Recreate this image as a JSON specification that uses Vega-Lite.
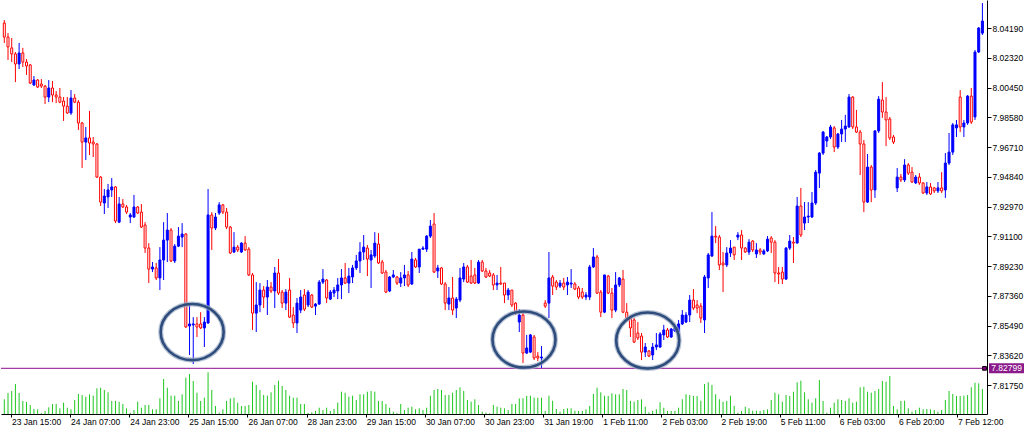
{
"$schema":"https://vega.github.io/schema/vega-lite/v6.json",
"width":986,"height":414,"padding":0,"background":"white",
"config":{"view":{"stroke":null},"font":"Liberation Sans"},
"datasets":{"bars":[
{"i":0,"o":8.045,"h":8.0469,"l":8.0325,"c":8.0362,"v":735},
{"i":1,"o":8.0362,"h":8.0387,"l":8.0218,"c":8.03,"v":1050},
{"i":2,"o":8.0294,"h":8.0356,"l":8.0205,"c":8.0256,"v":1150},
{"i":3,"o":8.0256,"h":8.0268,"l":8.0079,"c":8.0193,"v":1500},
{"i":4,"o":8.0193,"h":8.0325,"l":8.0161,"c":8.0262,"v":1050},
{"i":5,"o":8.0262,"h":8.0294,"l":8.0174,"c":8.0205,"v":650},
{"i":6,"o":8.0205,"h":8.0224,"l":8.0124,"c":8.018,"v":600},
{"i":7,"o":8.0187,"h":8.0193,"l":8.0067,"c":8.0073,"v":450},
{"i":8,"o":8.0061,"h":8.0117,"l":8.0054,"c":8.0092,"v":250},
{"i":9,"o":8.0092,"h":8.0098,"l":8.0042,"c":8.0048,"v":235},
{"i":10,"o":8.0067,"h":8.0098,"l":8.0042,"c":8.0054,"v":50},
{"i":11,"o":8.0054,"h":8.0061,"l":7.9941,"c":7.9985,"v":150},
{"i":12,"o":7.9985,"h":8.0092,"l":7.9953,"c":8.0042,"v":335},
{"i":13,"o":8.0042,"h":8.0086,"l":7.9953,"c":7.9998,"v":500},
{"i":14,"o":7.9998,"h":8.0023,"l":7.9947,"c":7.9985,"v":500},
{"i":15,"o":7.9985,"h":8.0042,"l":7.9947,"c":7.9953,"v":285},
{"i":16,"o":7.996,"h":7.9985,"l":7.9835,"c":7.9928,"v":565},
{"i":17,"o":7.9928,"h":7.9985,"l":7.9879,"c":7.9885,"v":315},
{"i":18,"o":7.9885,"h":8.0029,"l":7.9873,"c":7.9979,"v":235},
{"i":19,"o":7.9979,"h":8.0004,"l":7.9947,"c":7.9953,"v":700},
{"i":20,"o":7.9953,"h":7.9966,"l":7.9778,"c":7.9822,"v":1000},
{"i":21,"o":7.9822,"h":7.9828,"l":7.9539,"c":7.9702,"v":950},
{"i":22,"o":7.9702,"h":7.9797,"l":7.9589,"c":7.9728,"v":865},
{"i":23,"o":7.9728,"h":7.9898,"l":7.9621,"c":7.9696,"v":985},
{"i":24,"o":7.9702,"h":7.9734,"l":7.9608,"c":7.969,"v":915},
{"i":25,"o":7.969,"h":7.9696,"l":7.9476,"c":7.9482,"v":1285},
{"i":26,"o":7.9482,"h":7.9488,"l":7.93,"c":7.9325,"v":1315},
{"i":27,"o":7.9319,"h":7.9407,"l":7.925,"c":7.9363,"v":1200},
{"i":28,"o":7.9357,"h":7.9439,"l":7.9288,"c":7.9401,"v":1085},
{"i":29,"o":7.9401,"h":7.9476,"l":7.9357,"c":7.942,"v":650},
{"i":30,"o":7.942,"h":7.9426,"l":7.9193,"c":7.9206,"v":650},
{"i":31,"o":7.9199,"h":7.9357,"l":7.9193,"c":7.9313,"v":615},
{"i":32,"o":7.9313,"h":7.9344,"l":7.9288,"c":7.9294,"v":500},
{"i":33,"o":7.9294,"h":7.9307,"l":7.925,"c":7.9262,"v":285},
{"i":34,"o":7.9231,"h":7.9256,"l":7.9193,"c":7.9244,"v":65},
{"i":35,"o":7.9231,"h":7.937,"l":7.9225,"c":7.9294,"v":200},
{"i":36,"o":7.9294,"h":7.93,"l":7.925,"c":7.9256,"v":615},
{"i":37,"o":7.9262,"h":7.9313,"l":7.9162,"c":7.9168,"v":315},
{"i":38,"o":7.9181,"h":7.9199,"l":7.9005,"c":7.9036,"v":450},
{"i":39,"o":7.9036,"h":7.9067,"l":7.8816,"c":7.8904,"v":450},
{"i":40,"o":7.8904,"h":7.8948,"l":7.8885,"c":7.8917,"v":235},
{"i":41,"o":7.8911,"h":7.8942,"l":7.8835,"c":7.8848,"v":235},
{"i":42,"o":7.8848,"h":7.9042,"l":7.8772,"c":7.8961,"v":785},
{"i":43,"o":7.8961,"h":7.9199,"l":7.8835,"c":7.9086,"v":1750},
{"i":44,"o":7.9086,"h":7.9256,"l":7.8948,"c":7.9149,"v":1315},
{"i":45,"o":7.9149,"h":7.9162,"l":7.8948,"c":7.8955,"v":915},
{"i":46,"o":7.8955,"h":7.9061,"l":7.8942,"c":7.9048,"v":915},
{"i":47,"o":7.9048,"h":7.9168,"l":7.9042,"c":7.9111,"v":650},
{"i":48,"o":7.9105,"h":7.9193,"l":7.9042,"c":7.9124,"v":985},
{"i":49,"o":7.9124,"h":7.913,"l":7.8534,"c":7.854,"v":1815},
{"i":50,"o":7.8546,"h":7.869,"l":7.8364,"c":7.8559,"v":2000},
{"i":51,"o":7.8553,"h":7.8602,"l":7.8307,"c":7.8559,"v":1650},
{"i":52,"o":7.8559,"h":7.8602,"l":7.8477,"c":7.854,"v":1065},
{"i":53,"o":7.8559,"h":7.8633,"l":7.8527,"c":7.8534,"v":650},
{"i":54,"o":7.8534,"h":7.8602,"l":7.8414,"c":7.8571,"v":815},
{"i":55,"o":7.8565,"h":7.9407,"l":7.8559,"c":7.9244,"v":2085},
{"i":56,"o":7.9244,"h":7.9262,"l":7.9024,"c":7.9162,"v":1200},
{"i":57,"o":7.9162,"h":7.9256,"l":7.9149,"c":7.9231,"v":400},
{"i":58,"o":7.9256,"h":7.9325,"l":7.9244,"c":7.9307,"v":65},
{"i":59,"o":7.9307,"h":7.9313,"l":7.925,"c":7.9262,"v":235},
{"i":60,"o":7.9262,"h":7.9288,"l":7.9155,"c":7.9168,"v":650},
{"i":61,"o":7.9168,"h":7.9174,"l":7.8999,"c":7.9005,"v":785},
{"i":62,"o":7.9011,"h":7.9136,"l":7.9005,"c":7.9042,"v":815},
{"i":63,"o":7.9042,"h":7.9055,"l":7.9011,"c":7.9024,"v":565},
{"i":64,"o":7.9011,"h":7.9073,"l":7.9005,"c":7.9067,"v":400},
{"i":65,"o":7.9067,"h":7.9111,"l":7.9018,"c":7.9024,"v":400},
{"i":66,"o":7.9029,"h":7.9042,"l":7.886,"c":7.8867,"v":450},
{"i":67,"o":7.8867,"h":7.8879,"l":7.8521,"c":7.8627,"v":1615},
{"i":68,"o":7.8627,"h":7.8822,"l":7.8508,"c":7.8678,"v":1450},
{"i":69,"o":7.8678,"h":7.8816,"l":7.8633,"c":7.8772,"v":1200},
{"i":70,"o":7.8772,"h":7.8797,"l":7.8659,"c":7.8728,"v":950},
{"i":71,"o":7.8728,"h":7.8835,"l":7.8615,"c":7.8791,"v":915},
{"i":72,"o":7.8791,"h":7.8822,"l":7.8753,"c":7.8766,"v":1085},
{"i":73,"o":7.8766,"h":7.8917,"l":7.8659,"c":7.8879,"v":1450},
{"i":74,"o":7.8879,"h":7.8967,"l":7.8741,"c":7.8753,"v":1665},
{"i":75,"o":7.8759,"h":7.8772,"l":7.8659,"c":7.869,"v":1400},
{"i":76,"o":7.869,"h":7.8778,"l":7.8646,"c":7.8759,"v":1200},
{"i":77,"o":7.8772,"h":7.8848,"l":7.8596,"c":7.8602,"v":915},
{"i":78,"o":7.8615,"h":7.8665,"l":7.8534,"c":7.8565,"v":815},
{"i":79,"o":7.8565,"h":7.8722,"l":7.8502,"c":7.869,"v":815},
{"i":80,"o":7.8646,"h":7.8772,"l":7.8627,"c":7.8728,"v":500},
{"i":81,"o":7.8741,"h":7.8778,"l":7.864,"c":7.8652,"v":500},
{"i":82,"o":7.8678,"h":7.8772,"l":7.8665,"c":7.8759,"v":50},
{"i":83,"o":7.8741,"h":7.8747,"l":7.8659,"c":7.8665,"v":85},
{"i":84,"o":7.8671,"h":7.869,"l":7.8615,"c":7.8684,"v":150},
{"i":85,"o":7.8684,"h":7.8835,"l":7.8678,"c":7.8822,"v":315},
{"i":86,"o":7.8822,"h":7.8904,"l":7.881,"c":7.8841,"v":200},
{"i":87,"o":7.8835,"h":7.8841,"l":7.869,"c":7.8722,"v":315},
{"i":88,"o":7.8715,"h":7.8772,"l":7.8709,"c":7.8759,"v":150},
{"i":89,"o":7.8753,"h":7.8791,"l":7.8728,"c":7.8772,"v":250},
{"i":90,"o":7.8766,"h":7.8848,"l":7.8715,"c":7.8804,"v":565},
{"i":91,"o":7.8804,"h":7.8904,"l":7.8715,"c":7.8848,"v":1115},
{"i":92,"o":7.8848,"h":7.8942,"l":7.881,"c":7.8816,"v":1065},
{"i":93,"o":7.8816,"h":7.8911,"l":7.8753,"c":7.886,"v":865},
{"i":94,"o":7.8854,"h":7.893,"l":7.8816,"c":7.8911,"v":915},
{"i":95,"o":7.8911,"h":7.8993,"l":7.8898,"c":7.8955,"v":700},
{"i":96,"o":7.8955,"h":7.9073,"l":7.8879,"c":7.9011,"v":985},
{"i":97,"o":7.9011,"h":7.9118,"l":7.8961,"c":7.9042,"v":985},
{"i":98,"o":7.9036,"h":7.9055,"l":7.886,"c":7.8967,"v":1115},
{"i":99,"o":7.8961,"h":7.9024,"l":7.8785,"c":7.8993,"v":1150},
{"i":100,"o":7.8986,"h":7.9136,"l":7.8974,"c":7.9067,"v":1115},
{"i":101,"o":7.9061,"h":7.913,"l":7.8936,"c":7.8942,"v":650},
{"i":102,"o":7.8948,"h":7.8961,"l":7.8873,"c":7.8879,"v":650},
{"i":103,"o":7.8885,"h":7.8898,"l":7.8753,"c":7.8759,"v":500},
{"i":104,"o":7.8766,"h":7.886,"l":7.8759,"c":7.8854,"v":315},
{"i":105,"o":7.8854,"h":7.8898,"l":7.8848,"c":7.8867,"v":115},
{"i":106,"o":7.8854,"h":7.886,"l":7.8804,"c":7.8816,"v":50},
{"i":107,"o":7.8816,"h":7.8885,"l":7.8791,"c":7.8848,"v":500},
{"i":108,"o":7.8848,"h":7.893,"l":7.8797,"c":7.8867,"v":200},
{"i":109,"o":7.8867,"h":7.8892,"l":7.8791,"c":7.8804,"v":315},
{"i":110,"o":7.881,"h":7.9011,"l":7.8804,"c":7.8967,"v":365},
{"i":111,"o":7.8961,"h":7.8974,"l":7.8911,"c":7.8917,"v":235},
{"i":112,"o":7.8917,"h":7.9029,"l":7.8879,"c":7.9029,"v":285},
{"i":113,"o":7.9029,"h":7.9048,"l":7.9024,"c":7.9036,"v":200},
{"i":114,"o":7.9029,"h":7.9118,"l":7.9011,"c":7.9111,"v":315},
{"i":115,"o":7.9111,"h":7.9212,"l":7.9099,"c":7.9174,"v":915},
{"i":116,"o":7.9187,"h":7.9256,"l":7.8879,"c":7.8885,"v":1200},
{"i":117,"o":7.8892,"h":7.893,"l":7.8848,"c":7.8911,"v":1250},
{"i":118,"o":7.8911,"h":7.8917,"l":7.8804,"c":7.881,"v":1200},
{"i":119,"o":7.881,"h":7.8822,"l":7.8646,"c":7.869,"v":950},
{"i":120,"o":7.8684,"h":7.8791,"l":7.8646,"c":7.8722,"v":950},
{"i":121,"o":7.8722,"h":7.8854,"l":7.8615,"c":7.8646,"v":1065},
{"i":122,"o":7.8659,"h":7.8728,"l":7.8596,"c":7.8715,"v":1200},
{"i":123,"o":7.8709,"h":7.8911,"l":7.8696,"c":7.8848,"v":1335},
{"i":124,"o":7.8841,"h":7.8942,"l":7.8822,"c":7.8917,"v":1150},
{"i":125,"o":7.8917,"h":7.893,"l":7.8816,"c":7.8822,"v":700},
{"i":126,"o":7.886,"h":7.8961,"l":7.881,"c":7.8816,"v":615},
{"i":127,"o":7.8867,"h":7.8911,"l":7.881,"c":7.8816,"v":735},
{"i":128,"o":7.8816,"h":7.8961,"l":7.881,"c":7.8948,"v":450},
{"i":129,"o":7.8948,"h":7.8961,"l":7.8885,"c":7.8892,"v":115},
{"i":130,"o":7.8892,"h":7.8911,"l":7.8848,"c":7.8854,"v":65},
{"i":131,"o":7.8879,"h":7.8898,"l":7.8854,"c":7.886,"v":35},
{"i":132,"o":7.8867,"h":7.8879,"l":7.8772,"c":7.8804,"v":450},
{"i":133,"o":7.8804,"h":7.8867,"l":7.8772,"c":7.8816,"v":365},
{"i":134,"o":7.8816,"h":7.8917,"l":7.8804,"c":7.881,"v":315},
{"i":135,"o":7.8816,"h":7.8816,"l":7.869,"c":7.8741,"v":285},
{"i":136,"o":7.8741,"h":7.8785,"l":7.8709,"c":7.8772,"v":200},
{"i":137,"o":7.8772,"h":7.8772,"l":7.8665,"c":7.8678,"v":500},
{"i":138,"o":7.869,"h":7.8696,"l":7.8615,"c":7.8627,"v":500},
{"i":139,"o":7.8571,"h":7.8652,"l":7.8508,"c":7.8615,"v":780},
{"i":140,"o":7.8615,"h":7.8646,"l":7.8313,"c":7.8376,"v":785},
{"i":141,"o":7.8376,"h":7.849,"l":7.837,"c":7.8408,"v":900},
{"i":142,"o":7.8382,"h":7.8496,"l":7.8376,"c":7.849,"v":915},
{"i":143,"o":7.8477,"h":7.849,"l":7.8332,"c":7.8345,"v":815},
{"i":144,"o":7.8357,"h":7.8382,"l":7.8326,"c":7.8345,"v":815},
{"i":145,"o":7.8345,"h":7.842,"l":7.8281,"c":7.8351,"v":815},
{"i":146,"o":7.869,"h":7.8709,"l":7.8659,"c":7.8671,"v":150},
{"i":147,"o":7.869,"h":7.9011,"l":7.8596,"c":7.8848,"v":915},
{"i":148,"o":7.8854,"h":7.8867,"l":7.8741,"c":7.8797,"v":665},
{"i":149,"o":7.8822,"h":7.8835,"l":7.8772,"c":7.8791,"v":250},
{"i":150,"o":7.8797,"h":7.8835,"l":7.8785,"c":7.8816,"v":115},
{"i":151,"o":7.8816,"h":7.8848,"l":7.8772,"c":7.8791,"v":250},
{"i":152,"o":7.8804,"h":7.8854,"l":7.8741,"c":7.8822,"v":285},
{"i":153,"o":7.881,"h":7.8904,"l":7.8785,"c":7.8816,"v":285},
{"i":154,"o":7.881,"h":7.8822,"l":7.8772,"c":7.8778,"v":165},
{"i":155,"o":7.8785,"h":7.8797,"l":7.8715,"c":7.8728,"v":150},
{"i":156,"o":7.8759,"h":7.8785,"l":7.8715,"c":7.8728,"v":150},
{"i":157,"o":7.8728,"h":7.8759,"l":7.8709,"c":7.8741,"v":235},
{"i":158,"o":7.8728,"h":7.893,"l":7.8709,"c":7.8917,"v":400},
{"i":159,"o":7.8917,"h":7.9036,"l":7.8911,"c":7.898,"v":1000},
{"i":160,"o":7.898,"h":7.8993,"l":7.8747,"c":7.8753,"v":1315},
{"i":161,"o":7.8759,"h":7.8772,"l":7.8602,"c":7.8633,"v":1085},
{"i":162,"o":7.8633,"h":7.8867,"l":7.8627,"c":7.8867,"v":915},
{"i":163,"o":7.886,"h":7.8867,"l":7.8747,"c":7.8753,"v":900},
{"i":164,"o":7.8753,"h":7.8785,"l":7.8596,"c":7.8646,"v":1035},
{"i":165,"o":7.8646,"h":7.8885,"l":7.8633,"c":7.8804,"v":985},
{"i":166,"o":7.8804,"h":7.8854,"l":7.8791,"c":7.8848,"v":985},
{"i":167,"o":7.8841,"h":7.8898,"l":7.8627,"c":7.8633,"v":1250},
{"i":168,"o":7.8633,"h":7.869,"l":7.8584,"c":7.8596,"v":1200},
{"i":169,"o":7.8596,"h":7.8602,"l":7.8477,"c":7.8534,"v":650},
{"i":170,"o":7.8584,"h":7.8596,"l":7.8439,"c":7.8445,"v":615},
{"i":171,"o":7.8502,"h":7.8571,"l":7.8458,"c":7.8471,"v":700},
{"i":172,"o":7.8483,"h":7.8502,"l":7.8332,"c":7.8382,"v":735},
{"i":173,"o":7.8382,"h":7.8439,"l":7.8351,"c":7.8414,"v":365},
{"i":174,"o":7.8389,"h":7.8395,"l":7.8351,"c":7.8357,"v":85},
{"i":175,"o":7.8364,"h":7.8439,"l":7.8332,"c":7.8414,"v":150},
{"i":176,"o":7.8414,"h":7.8502,"l":7.8395,"c":7.8427,"v":235},
{"i":177,"o":7.8414,"h":7.8508,"l":7.8408,"c":7.8496,"v":585},
{"i":178,"o":7.849,"h":7.8553,"l":7.8458,"c":7.8521,"v":315},
{"i":179,"o":7.8521,"h":7.8534,"l":7.8471,"c":7.8477,"v":150},
{"i":180,"o":7.8477,"h":7.8534,"l":7.8471,"c":7.8527,"v":150},
{"i":181,"o":7.8515,"h":7.8546,"l":7.8508,"c":7.8534,"v":150},
{"i":182,"o":7.8508,"h":7.8584,"l":7.8445,"c":7.8559,"v":315},
{"i":183,"o":7.8559,"h":7.8646,"l":7.8553,"c":7.8615,"v":735},
{"i":184,"o":7.8571,"h":7.8633,"l":7.8565,"c":7.8615,"v":985},
{"i":185,"o":7.8615,"h":7.8741,"l":7.8571,"c":7.8709,"v":950},
{"i":186,"o":7.8709,"h":7.8778,"l":7.8646,"c":7.8659,"v":900},
{"i":187,"o":7.8678,"h":7.8709,"l":7.8627,"c":7.8659,"v":900},
{"i":188,"o":7.8671,"h":7.869,"l":7.8565,"c":7.8596,"v":665},
{"i":189,"o":7.8584,"h":7.8867,"l":7.8502,"c":7.8854,"v":1500},
{"i":190,"o":7.8848,"h":7.9005,"l":7.8785,"c":7.8993,"v":1585},
{"i":191,"o":7.8986,"h":7.9262,"l":7.898,"c":7.9111,"v":1450},
{"i":192,"o":7.9111,"h":7.9174,"l":7.9067,"c":7.9105,"v":985},
{"i":193,"o":7.9105,"h":7.9118,"l":7.8898,"c":7.893,"v":735},
{"i":194,"o":7.8942,"h":7.9011,"l":7.8759,"c":7.893,"v":615},
{"i":195,"o":7.893,"h":7.9042,"l":7.8917,"c":7.9005,"v":650},
{"i":196,"o":7.9005,"h":7.9086,"l":7.898,"c":7.9036,"v":915},
{"i":197,"o":7.9042,"h":7.9042,"l":7.8961,"c":7.8993,"v":400},
{"i":198,"o":7.9105,"h":7.9136,"l":7.9086,"c":7.9118,"v":65},
{"i":199,"o":7.9118,"h":7.9149,"l":7.8961,"c":7.9036,"v":150},
{"i":200,"o":7.9036,"h":7.9042,"l":7.9005,"c":7.9011,"v":365},
{"i":201,"o":7.9011,"h":7.9092,"l":7.8993,"c":7.9073,"v":285},
{"i":202,"o":7.908,"h":7.9086,"l":7.9011,"c":7.9024,"v":165},
{"i":203,"o":7.8999,"h":7.9067,"l":7.8974,"c":7.9024,"v":165},
{"i":204,"o":7.9024,"h":7.9036,"l":7.8993,"c":7.9011,"v":150},
{"i":205,"o":7.8999,"h":7.9029,"l":7.8993,"c":7.9018,"v":200},
{"i":206,"o":7.9018,"h":7.9111,"l":7.9011,"c":7.9092,"v":235},
{"i":207,"o":7.9099,"h":7.9111,"l":7.9005,"c":7.9073,"v":700},
{"i":208,"o":7.9073,"h":7.9086,"l":7.8822,"c":7.8879,"v":1065},
{"i":209,"o":7.8879,"h":7.8917,"l":7.881,"c":7.8873,"v":985},
{"i":210,"o":7.8885,"h":7.8917,"l":7.881,"c":7.8841,"v":615},
{"i":211,"o":7.8841,"h":7.9042,"l":7.8835,"c":7.9036,"v":950},
{"i":212,"o":7.9036,"h":7.9118,"l":7.9024,"c":7.908,"v":900},
{"i":213,"o":7.9073,"h":7.9105,"l":7.8942,"c":7.9067,"v":1115},
{"i":214,"o":7.9067,"h":7.9357,"l":7.9067,"c":7.93,"v":1585},
{"i":215,"o":7.93,"h":7.9414,"l":7.9105,"c":7.9118,"v":1665},
{"i":216,"o":7.9193,"h":7.9325,"l":7.9149,"c":7.9231,"v":1085},
{"i":217,"o":7.9231,"h":7.9325,"l":7.9193,"c":7.9237,"v":735},
{"i":218,"o":7.9231,"h":7.9388,"l":7.9225,"c":7.9319,"v":565},
{"i":219,"o":7.9319,"h":7.9526,"l":7.9307,"c":7.9513,"v":785},
{"i":220,"o":7.9507,"h":7.9639,"l":7.9414,"c":7.9633,"v":1700},
{"i":221,"o":7.9633,"h":7.9772,"l":7.9621,"c":7.9765,"v":650},
{"i":222,"o":7.9709,"h":7.974,"l":7.9671,"c":7.9734,"v":65},
{"i":223,"o":7.9734,"h":7.981,"l":7.9721,"c":7.9797,"v":315},
{"i":224,"o":7.9791,"h":7.9803,"l":7.9639,"c":7.9671,"v":565},
{"i":225,"o":7.9671,"h":7.9759,"l":7.9658,"c":7.9753,"v":735},
{"i":226,"o":7.9753,"h":7.9841,"l":7.9702,"c":7.9784,"v":700},
{"i":227,"o":7.9784,"h":7.9873,"l":7.9702,"c":7.9803,"v":650},
{"i":228,"o":7.9797,"h":8.0004,"l":7.9791,"c":7.9985,"v":785},
{"i":229,"o":7.9985,"h":7.9991,"l":7.9784,"c":7.9797,"v":565},
{"i":230,"o":7.9797,"h":7.9904,"l":7.9759,"c":7.9765,"v":615},
{"i":231,"o":7.9765,"h":7.9778,"l":7.9495,"c":7.969,"v":1335},
{"i":232,"o":7.969,"h":7.9715,"l":7.9262,"c":7.9325,"v":1365},
{"i":233,"o":7.9325,"h":7.9627,"l":7.9319,"c":7.9545,"v":1115},
{"i":234,"o":7.9545,"h":7.9558,"l":7.9325,"c":7.9401,"v":1065},
{"i":235,"o":7.9401,"h":7.9778,"l":7.9351,"c":7.9772,"v":1150},
{"i":236,"o":7.9772,"h":7.9991,"l":7.9759,"c":7.9972,"v":1250},
{"i":237,"o":7.9966,"h":8.0079,"l":7.9854,"c":7.9891,"v":1650},
{"i":238,"o":7.9891,"h":7.9985,"l":7.9677,"c":7.9841,"v":1615},
{"i":239,"o":7.9847,"h":7.986,"l":7.9715,"c":7.9728,"v":1900},
{"i":240,"o":7.9734,"h":7.9747,"l":7.969,"c":7.9702,"v":400},
{"i":241,"o":7.9414,"h":7.9539,"l":7.9388,"c":7.9482,"v":235},
{"i":242,"o":7.9482,"h":7.9501,"l":7.9451,"c":7.9464,"v":650},
{"i":243,"o":7.9464,"h":7.9595,"l":7.9451,"c":7.9558,"v":665},
{"i":244,"o":7.9558,"h":7.957,"l":7.9495,"c":7.9507,"v":285},
{"i":245,"o":7.9513,"h":7.9545,"l":7.9445,"c":7.9451,"v":115},
{"i":246,"o":7.9445,"h":7.9495,"l":7.9439,"c":7.9482,"v":200},
{"i":247,"o":7.9482,"h":7.9507,"l":7.9433,"c":7.9445,"v":315},
{"i":248,"o":7.9445,"h":7.9451,"l":7.9376,"c":7.9382,"v":235},
{"i":249,"o":7.9382,"h":7.9451,"l":7.937,"c":7.942,"v":250},
{"i":250,"o":7.942,"h":7.9445,"l":7.937,"c":7.9376,"v":235},
{"i":251,"o":7.9414,"h":7.942,"l":7.9382,"c":7.9395,"v":200},
{"i":252,"o":7.9395,"h":7.9451,"l":7.9382,"c":7.9414,"v":115},
{"i":253,"o":7.9414,"h":7.9513,"l":7.9382,"c":7.9395,"v":200},
{"i":254,"o":7.9401,"h":7.9633,"l":7.9351,"c":7.957,"v":700},
{"i":255,"o":7.957,"h":7.9759,"l":7.9558,"c":7.9639,"v":1150},
{"i":256,"o":7.9639,"h":7.9822,"l":7.9621,"c":7.981,"v":1000},
{"i":257,"o":7.9791,"h":7.9841,"l":7.9734,"c":7.981,"v":900},
{"i":258,"o":7.9985,"h":8.0029,"l":7.9765,"c":7.9797,"v":900},
{"i":259,"o":7.9797,"h":7.9841,"l":7.9734,"c":7.9822,"v":915},
{"i":260,"o":7.9822,"h":7.9998,"l":7.981,"c":7.9991,"v":950},
{"i":261,"o":7.9991,"h":8.0042,"l":7.9816,"c":7.9828,"v":1335},
{"i":262,"o":7.986,"h":8.0281,"l":7.9841,"c":8.0268,"v":1565},
{"i":263,"o":8.0268,"h":8.0425,"l":8.0262,"c":8.0419,"v":1535},
{"i":264,"o":8.0387,"h":8.0576,"l":8.0375,"c":8.0463,"v":1250}
],
"ellipses":[{"i":50.71,"p":7.8508},{"i":140.27,"p":7.8461},{"i":173.66,"p":7.8455}],
"level":[{"i":265.24,"m":264.56,"p":7.82799,"t":"7.82799"}],
"ticks":[
{"i":1.8,"p":7.7993,"t":"23 Jan 15:00"},{"i":17.76,"p":7.7993,"t":"24 Jan 07:00"},{"i":33.72,"p":7.7993,"t":"24 Jan 23:00"},{"i":49.68,"p":7.7993,"t":"25 Jan 15:00"},
{"i":65.64,"p":7.7993,"t":"26 Jan 07:00"},{"i":81.6,"p":7.7993,"t":"28 Jan 23:00"},{"i":97.56,"p":7.7993,"t":"29 Jan 15:00"},{"i":113.52,"p":7.7993,"t":"30 Jan 07:00"},
{"i":129.48,"p":7.7993,"t":"30 Jan 23:00"},{"i":145.44,"p":7.7993,"t":"31 Jan 19:00"},{"i":161.4,"p":7.7993,"t":"1 Feb 11:00"},{"i":177.36,"p":7.7993,"t":"2 Feb 03:00"},
{"i":193.32,"p":7.7993,"t":"2 Feb 19:00"},{"i":209.28,"p":7.7993,"t":"5 Feb 11:00"},{"i":225.24,"p":7.7993,"t":"6 Feb 03:00"},{"i":241.2,"p":7.7993,"t":"6 Feb 20:00"},
{"i":257.16,"p":7.7993,"t":"7 Feb 12:00"}]
},
"layer":[
{"data":{"name":"bars"},
 "mark":{"type":"rule","color":"#1ec81e","strokeWidth":1},
 "encoding":{
  "x":{"field":"i","type":"quantitative","scale":{"domain":[-0.89,265.24],"nice":false,"zero":false,"padding":0},
   "axis":{"orient":"bottom","title":null,"grid":false,"zindex":1,"labels":false,"values":[1.8,17.76,33.72,49.68,65.64,81.6,97.56,113.52,129.48,145.44,161.4,177.36,193.32,209.28,225.24,241.2,257.16],"domainColor":"#000000","tickColor":"#000000","tickSize":3}},
  "y":{"field":"v","type":"quantitative","scale":{"domain":[0,20700],"nice":false,"zero":true,"padding":0},"axis":null},
  "y2":{"datum":0}}},
{"data":{"name":"bars"},
 "mark":{"type":"rule","strokeWidth":1},
 "encoding":{
  "x":{"field":"i","type":"quantitative","scale":{"domain":[-0.89,265.24],"nice":false,"zero":false,"padding":0},
   "axis":{"orient":"bottom","title":null,"grid":false,"zindex":1,"labels":false,"values":[1.8,17.76,33.72,49.68,65.64,81.6,97.56,113.52,129.48,145.44,161.4,177.36,193.32,209.28,225.24,241.2,257.16],"domainColor":"#000000","tickColor":"#000000","tickSize":3}},
  "y":{"field":"l","type":"quantitative","scale":{"domain":[7.7993,8.0595],"nice":false,"zero":false,"padding":0},
   "axis":{"orient":"right","title":null,"grid":false,"zindex":1,
    "values":[7.8175,7.8362,7.8549,7.8736,7.8923,7.911,7.9297,7.9484,7.9671,7.9858,8.0045,8.0232,8.0419],
    "format":".5f","domainColor":"#000000","tickColor":"#000000","labelColor":"#000000","labelFontSize":8.5,
    "tickSize":4,"labelPadding":1,"labelOverlap":false}},
  "y2":{"field":"h"},
  "color":{"condition":{"test":"datum.c > datum.o","value":"#0000ff"},"value":"#ff0000"}}},
{"data":{"name":"bars"},
 "mark":{"type":"bar","size":2,"strokeWidth":1,"orient":"vertical"},
 "encoding":{
  "x":{"field":"i","type":"quantitative","scale":{"domain":[-0.89,265.24],"nice":false,"zero":false,"padding":0},
   "axis":{"orient":"bottom","title":null,"grid":false,"zindex":1,"labels":false,"values":[1.8,17.76,33.72,49.68,65.64,81.6,97.56,113.52,129.48,145.44,161.4,177.36,193.32,209.28,225.24,241.2,257.16],"domainColor":"#000000","tickColor":"#000000","tickSize":3}},
  "y":{"field":"o","type":"quantitative","scale":{"domain":[7.7993,8.0595],"nice":false,"zero":false,"padding":0},"axis":null},
  "y2":{"field":"c"},
  "fill":{"condition":{"test":"datum.c > datum.o","value":"#0000ff"},"value":"#ffffff"},
  "stroke":{"condition":{"test":"datum.c > datum.o","value":"#0000ff"},"value":"#ff0000"}}},
{"data":{"name":"level"},
 "mark":{"type":"rule","color":"#a53ca5","strokeWidth":1.3},
 "encoding":{"y":{"field":"p","type":"quantitative","scale":{"domain":[7.7993,8.0595],"nice":false,"zero":false,"padding":0},"axis":null}}},
{"data":{"name":"ellipses"},
 "mark":{"type":"point","shape":"M-1,0C-1,-0.492,-0.552,-0.89,0,-0.89C0.552,-0.89,1,-0.492,1,0C1,0.492,0.552,0.89,0,0.89C-0.552,0.89,-1,0.492,-1,0Z","size":3969,"filled":false,"stroke":"#9aaac4","strokeWidth":5,"opacity":0.7},
 "encoding":{
  "x":{"field":"i","type":"quantitative","scale":{"domain":[-0.89,265.24],"nice":false,"zero":false,"padding":0},
   "axis":{"orient":"bottom","title":null,"grid":false,"zindex":1,"labels":false,"values":[1.8,17.76,33.72,49.68,65.64,81.6,97.56,113.52,129.48,145.44,161.4,177.36,193.32,209.28,225.24,241.2,257.16],"domainColor":"#000000","tickColor":"#000000","tickSize":3}},
  "y":{"field":"p","type":"quantitative","scale":{"domain":[7.7993,8.0595],"nice":false,"zero":false,"padding":0},"axis":null}}},
{"data":{"name":"ellipses"},
 "mark":{"type":"point","shape":"M-1,0C-1,-0.492,-0.552,-0.89,0,-0.89C0.552,-0.89,1,-0.492,1,0C1,0.492,0.552,0.89,0,0.89C-0.552,0.89,-1,0.492,-1,0Z","size":3969,"filled":false,"stroke":"#2e4c7c","strokeWidth":2.6,"opacity":1},
 "encoding":{
  "x":{"field":"i","type":"quantitative","scale":{"domain":[-0.89,265.24],"nice":false,"zero":false,"padding":0},
   "axis":{"orient":"bottom","title":null,"grid":false,"zindex":1,"labels":false,"values":[1.8,17.76,33.72,49.68,65.64,81.6,97.56,113.52,129.48,145.44,161.4,177.36,193.32,209.28,225.24,241.2,257.16],"domainColor":"#000000","tickColor":"#000000","tickSize":3}},
  "y":{"field":"p","type":"quantitative","scale":{"domain":[7.7993,8.0595],"nice":false,"zero":false,"padding":0},"axis":null}}},
{"data":{"name":"level"},
 "mark":{"type":"point","shape":"square","size":14,"filled":true,"fill":"#8b008b","stroke":"#000000","strokeWidth":1,"opacity":1},
 "encoding":{
  "x":{"field":"m","type":"quantitative","scale":{"domain":[-0.89,265.24],"nice":false,"zero":false,"padding":0},
   "axis":{"orient":"bottom","title":null,"grid":false,"zindex":1,"labels":false,"values":[1.8,17.76,33.72,49.68,65.64,81.6,97.56,113.52,129.48,145.44,161.4,177.36,193.32,209.28,225.24,241.2,257.16],"domainColor":"#000000","tickColor":"#000000","tickSize":3}},
  "y":{"field":"p","type":"quantitative","scale":{"domain":[7.7993,8.0595],"nice":false,"zero":false,"padding":0},"axis":null}}},
{"data":{"name":"level"},
 "mark":{"type":"point","shape":"M0.054,-0.135L1,-0.135L1,0.135L0.054,0.135Z","size":5476,"filled":true,"fill":"#8b1a8b","strokeWidth":0,"opacity":1},
 "encoding":{
  "x":{"field":"i","type":"quantitative","scale":{"domain":[-0.89,265.24],"nice":false,"zero":false,"padding":0},
   "axis":{"orient":"bottom","title":null,"grid":false,"zindex":1,"labels":false,"values":[1.8,17.76,33.72,49.68,65.64,81.6,97.56,113.52,129.48,145.44,161.4,177.36,193.32,209.28,225.24,241.2,257.16],"domainColor":"#000000","tickColor":"#000000","tickSize":3}},
  "y":{"field":"p","type":"quantitative","scale":{"domain":[7.7993,8.0595],"nice":false,"zero":false,"padding":0},"axis":null}}},
{"data":{"name":"level"},
 "mark":{"type":"text","color":"#ffffff","fontSize":8.5,"align":"center","baseline":"middle","dx":19.5},
 "encoding":{
  "x":{"field":"i","type":"quantitative","scale":{"domain":[-0.89,265.24],"nice":false,"zero":false,"padding":0},
   "axis":{"orient":"bottom","title":null,"grid":false,"zindex":1,"labels":false,"values":[1.8,17.76,33.72,49.68,65.64,81.6,97.56,113.52,129.48,145.44,161.4,177.36,193.32,209.28,225.24,241.2,257.16],"domainColor":"#000000","tickColor":"#000000","tickSize":3}},
  "y":{"field":"p","type":"quantitative","scale":{"domain":[7.7993,8.0595],"nice":false,"zero":false,"padding":0},"axis":null},
  "text":{"field":"t"}}},
{"data":{"name":"ticks"},
 "mark":{"type":"text","color":"#000000","fontSize":8.5,"align":"left","baseline":"top","dx":1,"dy":4},
 "encoding":{
  "x":{"field":"i","type":"quantitative","scale":{"domain":[-0.89,265.24],"nice":false,"zero":false,"padding":0},
   "axis":{"orient":"bottom","title":null,"grid":false,"zindex":1,"labels":false,"values":[1.8,17.76,33.72,49.68,65.64,81.6,97.56,113.52,129.48,145.44,161.4,177.36,193.32,209.28,225.24,241.2,257.16],"domainColor":"#000000","tickColor":"#000000","tickSize":3}},
  "y":{"field":"p","type":"quantitative","scale":{"domain":[7.7993,8.0595],"nice":false,"zero":false,"padding":0},"axis":null},
  "text":{"field":"t"}}}
],
"resolve":{"scale":{"y":"independent"}}
}
